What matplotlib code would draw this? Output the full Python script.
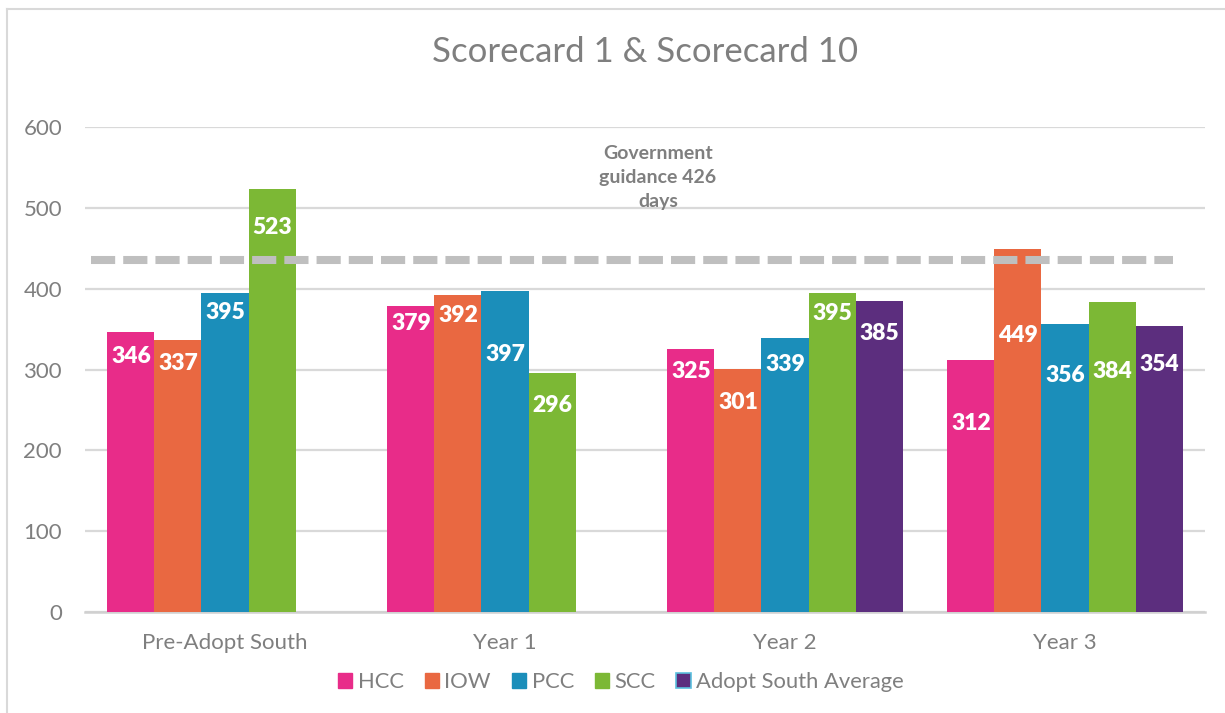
import matplotlib
matplotlib.use("Agg")
import matplotlib.pyplot as plt
import numpy as np
from matplotlib.patches import Patch
from matplotlib.lines import Line2D

# ---- data ----
categories = ["Pre-Adopt South", "Year 1", "Year 2", "Year 3"]
series_names = ["HCC", "IOW", "PCC", "SCC", "Adopt South Average"]
hcc = [346, 379, 325, 312]
iow = [337, 392, 301, 449]
pcc = [395, 397, 339, 356]
scc = [523, 296, 395, 384]
avg = [None, None, 385, 354]
guidance_value = 436
guidance_text = "Government\nguidance 426\ndays"
title = "Scorecard 1 & Scorecard 10"
yticks = [0, 100, 200, 300, 400, 500, 600]

# label centre positions (data units), as placed in the reference
label_hcc = [316, 357, 298, 233]
label_iow = [307, 367, 259, 342]
label_pcc = [371, 319, 306, 292]
label_scc = [476, 256, 369, 297]
label_avg = [None, None, 345, 306]

colors = ["#E82C89", "#E96841", "#1B8EBA", "#7CB835", "#5C2E7E"]
gray = "#7F7F7F"

plt.rcParams['font.family'] = ['Lato', 'DejaVu Sans']

fig = plt.figure(figsize=(12.25, 7.13), dpi=100)
ax = fig.add_axes([85/1225, 1-612/713, 1120/1225, 485/713])

series = [hcc, iow, pcc, scc, avg]
labels = [label_hcc, label_iow, label_pcc, label_scc, label_avg]
x = np.arange(len(categories))
w = 0.168
for i, (vals, labs) in enumerate(zip(series, labels)):
    offs = (i - 2) * w
    for j, v in enumerate(vals):
        if v is None:
            continue
        ax.bar(x[j] + offs, v, width=w, color=colors[i], zorder=3,
               linewidth=0)
        ax.text(x[j] + offs, labs[j], str(v), ha="center", va="center",
                color="white", fontsize=16.5, fontweight="heavy", zorder=5)

# guidance line
ax.plot([-0.48, 3.386], [guidance_value, guidance_value], color="#BFBFBF",
        linewidth=5.8, linestyle=(0, (3.0, 1.0)), solid_capstyle="butt",
        dash_capstyle="butt", zorder=4)
ax.text(1.546, 538, guidance_text, ha="center", va="center", color=gray,
        fontsize=14, fontweight="bold", linespacing=1.5, zorder=6)

ax.set_xlim(-0.5, 3.5)
ax.set_ylim(0, 600)
ax.set_yticks(yticks)
ax.set_xticks(x)
ax.set_xticklabels(categories)
ax.tick_params(axis="both", length=0, colors=gray, labelsize=16)
ax.tick_params(axis="y", pad=16.5)
ax.tick_params(axis="x", pad=15)
ax.yaxis.grid(True, color="#D9D9D9", linewidth=1.6, zorder=0)
ax.set_axisbelow(True)
for s in ["top", "right", "left"]:
    ax.spines[s].set_visible(False)
ax.spines["bottom"].set_color("#D0D0D0")
ax.spines["bottom"].set_linewidth(1.8)

fig.text(645/1225, 1 - 52/713, title, ha="center", va="center",
         color=gray, fontsize=25)

handles = [Patch(facecolor=c, edgecolor=c) for c in colors[:4]]
handles.append(Patch(facecolor=colors[4], edgecolor="#5BC0DE", linewidth=1.2))
fig.legend(handles, series_names, loc="center", bbox_to_anchor=(621/1225, 1 - 682/713),
           ncol=5, frameon=False, fontsize=15.8, labelcolor=gray,
           handlelength=0.65, handleheight=0.65, handletextpad=0.25,
           columnspacing=0.95)

# outer chart border (left and top visible)
fig.add_artist(Line2D([7/1225, 7/1225], [0, 1 - 9/713], color="#D9D9D9",
                      linewidth=1.5, transform=fig.transFigure))
fig.add_artist(Line2D([7/1225, 1], [1 - 9/713, 1 - 9/713], color="#D9D9D9",
                      linewidth=1.5, transform=fig.transFigure))

fig.savefig("out.png", dpi=100)
